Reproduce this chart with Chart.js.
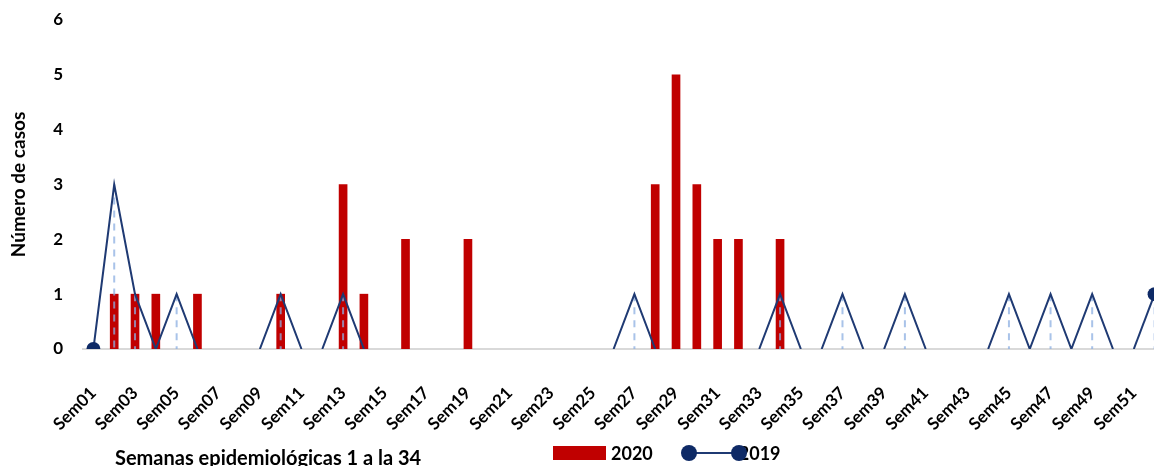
<!DOCTYPE html>
<html>
<head>
<meta charset="utf-8">
<script src="https://cdn.jsdelivr.net/npm/chart.js@4.4.0/dist/chart.umd.min.js"></script>
<style>
  html, body { margin: 0; padding: 0; background: #fff; overflow: hidden; }
  #wrap { position: absolute; left: 0; top: 0; width: 1172px; height: 466px; }
  .note { position: absolute; font-family: Lato, "Open Sans", sans-serif; font-weight: bold; color: #000; white-space: nowrap; line-height: 1; }
  #xtitle { left: 115px; top: 447px; font-size: 20px; }
  #legend { left: 553px; top: 442px; font-size: 18px; }
  #legend span { display: inline-block; vertical-align: middle; }
  .swatch { width: 53px; height: 14px; background: #c00000; margin-right: 5px; }
  .lineKey { position: relative; width: 66px; height: 16px; margin-left: 28px; margin-right: -8px; }
  .lineKey i { position: absolute; top: 7px; left: 8px; right: 8px; height: 2px; background: #1f3a73; }
  .lineKey b { position: absolute; top: 0; width: 16px; height: 16px; border-radius: 50%; background: #0e2a66; }
</style>
</head>
<body>
<div id="wrap"><canvas id="chart"></canvas></div>
<div class="note" id="xtitle">Semanas epidemiológicas 1 a la 34</div>
<div class="note" id="legend"><span class="swatch"></span><span>2020</span><span class="lineKey"><i></i><b style="left:0"></b><b style="right:0"></b></span><span>2019</span></div>
<script>
// --- data ---
const weeks = Array.from({ length: 52 }, (_, i) => 'Sem' + String(i + 1).padStart(2, '0'));

const cases2020 = [0, 1, 1, 1, 0, 1, 0, 0, 0, 1, 0, 0, 3, 1, 0, 2, 0, 0, 2, 0,
  0, 0, 0, 0, 0, 0, 0, 3, 5, 3, 2, 2, 0, 2];

const cases2019 = [0, 3, 1, 0, 1, 0, 0, 0, 0, 1, 0, 0, 1, 0, 0, 0, 0, 0, 0, 0,
  0, 0, 0, 0, 0, 0, 1, 0, 0, 0, 0, 0, 0, 1, 0, 0, 1, 0, 0, 1,
  0, 0, 0, 0, 1, 0, 1, 0, 1, 0, 0, 1];

const yTicks = [0, 1, 2, 3, 4, 5, 6];

const FONT = 'Lato, "Open Sans", sans-serif';

// dashed drop lines from the 2019 points down to the axis
const dropLines = {
  id: 'dropLines',
  beforeDatasetDraw(chart, args) {
    if (args.meta.type !== 'line') return;
    const ctx = chart.ctx;
    const x = chart.scales.x, y = chart.scales.y;
    ctx.save();
    ctx.strokeStyle = 'rgba(140,175,225,0.75)';
    ctx.lineWidth = 2;
    ctx.setLineDash([7, 6]);
    cases2019.forEach((v, i) => {
      if (!v) return;
      const px = x.getPixelForValue(i);
      ctx.beginPath();
      ctx.moveTo(px, y.getPixelForValue(v));
      ctx.lineTo(px, y.getPixelForValue(0));
      ctx.stroke();
    });
    ctx.restore();
  }
};

new Chart(document.getElementById('chart'), {
  type: 'bar',
  data: {
    labels: weeks,
    datasets: [
      {
        type: 'line',
        label: '2019',
        data: cases2019,
        borderColor: '#1f3a73',
        borderWidth: 2,
        tension: 0,
        clip: { left: 10, top: 10, right: 20, bottom: 0 },
        // segments lying on the axis are hidden by it in the original
        segment: {
          borderColor: (c) => (c.p0.parsed.y === 0 && c.p1.parsed.y === 0) ? 'rgba(0,0,0,0)' : undefined
        },
        pointRadius: cases2019.map((_, i) => (i === 0 || i === cases2019.length - 1) ? 7 : 0),
        pointBackgroundColor: '#0e2a66',
        pointBorderWidth: 0,
        order: 0
      },
      {
        label: '2020',
        data: cases2020.map(v => v || null),
        backgroundColor: '#c00000',
        barThickness: 8,
        order: 1
      }
    ]
  },
  options: {
    responsive: true,
    maintainAspectRatio: false,
    animation: false,
    layout: { padding: { top: 20, right: 2, bottom: 0, left: 0 } },
    plugins: {
      legend: { display: false },
      tooltip: { enabled: false }
    },
    scales: {
      x: {
        grid: { display: false, drawTicks: false },
        border: { color: '#d9d9d9', width: 2 },
        ticks: {
          autoSkip: false,
          minRotation: 45,
          maxRotation: 45,
          padding: 34,
          color: '#000',
          font: { family: FONT, size: 17, weight: 'bold' },
          callback: (v, i) => (i % 2 === 0 ? weeks[i] : '')
        },
        afterFit: (s) => { s.height = 117; s.paddingLeft = 0; s.paddingRight = 0; }
      },
      y: {
        min: yTicks[0],
        max: yTicks[yTicks.length - 1],
        grid: { display: false, drawTicks: false },
        border: { display: false },
        afterBuildTicks: (s) => { s.ticks = yTicks.map(v => ({ value: v })); },
        ticks: {
          padding: 20,
          color: '#000',
          font: { family: FONT, size: 17, weight: 'bold' }
        },
        title: {
          display: true,
          text: 'Número de casos',
          color: '#000',
          padding: { top: 7, bottom: 0 },
          font: { family: FONT, size: 19, weight: 'bold' }
        },
        afterFit: (s) => { s.width = 83; s.paddingTop = 0; s.paddingBottom = 0; }
      }
    }
  },
  plugins: [dropLines]
});
</script>
</body>
</html>
